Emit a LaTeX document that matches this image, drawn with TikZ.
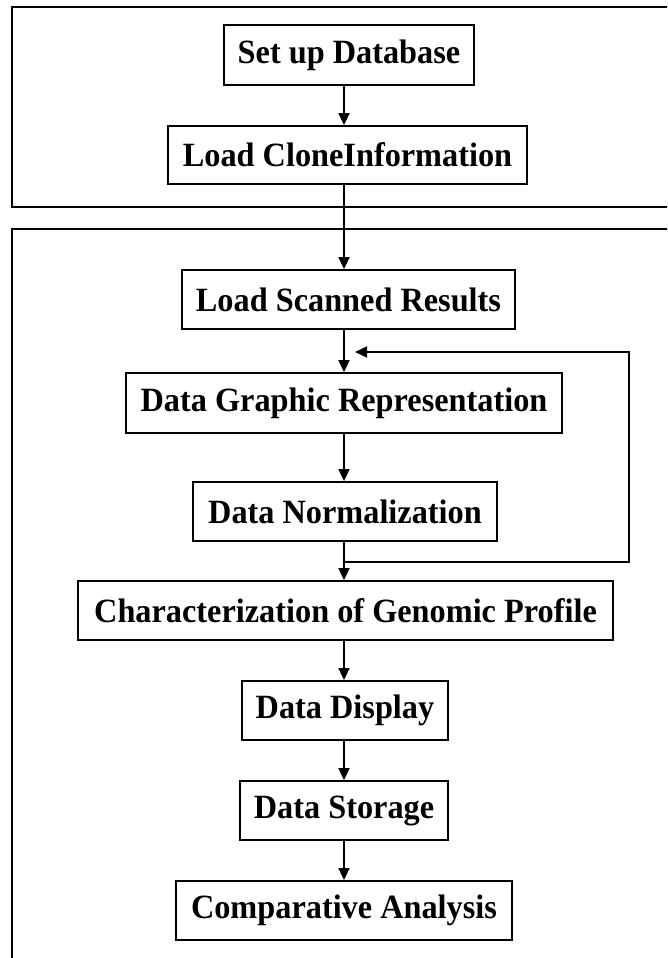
\documentclass[tikz,border=0pt]{standalone}
\usepackage{fontspec}
\setmainfont{Liberation Serif}[FakeStretch=0.95]
\usetikzlibrary{arrows.meta}
\begin{document}
\begin{tikzpicture}[x=1pt,y=-1pt,
  line width=2pt,
  stepbox/.style={draw, line width=1.8pt, inner sep=0pt, align=center,
    font=\fontsize{34}{38}\selectfont\bfseries},
  arr/.style={-{Triangle[length=12pt,width=11pt]}, line width=1.6pt},
  frame/.style={draw, line width=2pt}]
  % page area
  \path[use as bounding box, fill=white] (0,0) rectangle (667,958);
  \clip (0,0) rectangle (667,958);

  % two grouping frames, both running off the right/bottom edge
  \draw[frame] (12,7) rectangle (690,207);
  \draw[frame] (12,229) rectangle (690,990);

  % process steps
  \node[stepbox, minimum width=250pt, minimum height=60pt] (setup)   at (349,55)    {Set up Database};
  \node[stepbox, minimum width=359pt, minimum height=58pt] (clone)   at (347.5,155) {Load CloneInformation};
  \node[stepbox, minimum width=333pt, minimum height=59pt] (scanned) at (348.5,299.5) {Load Scanned Results};
  \node[stepbox, minimum width=436pt, minimum height=60pt] (graphic) at (344,403)   {Data Graphic Representation};
  \node[stepbox, minimum width=304pt, minimum height=59pt] (norm)    at (345,511.5) {Data Normalization};
  \node[stepbox, minimum width=535pt, minimum height=59pt] (charact) at (345.5,610.5) {Characterization of Genomic Profile};
  \node[stepbox, minimum width=206pt, minimum height=59pt] (display) at (345,710.5) {Data Display};
  \node[stepbox, minimum width=208pt, minimum height=59pt] (storage) at (344,810.5) {Data Storage};
  \node[stepbox, minimum width=336pt, minimum height=59pt] (compare) at (344,910.5) {Comparative Analysis};

  % main flow axis and feedback corners
  \coordinate (ax) at (344,0);
  \coordinate (fbLow) at (629,562);
  \coordinate (fbHigh) at (629,352);
  \coordinate (fbTip) at (355,352);

  \draw[arr] (setup.south -| ax)   -- (clone.north -| ax);
  \draw[arr] (clone.south -| ax)   -- (scanned.north -| ax);
  \draw[arr] (scanned.south -| ax) -- (graphic.north -| ax);
  \draw[arr] (graphic.south -| ax) -- (norm.north -| ax);
  \draw[arr] (norm.south -| ax)    -- (charact.north -| ax);
  \draw[arr] (charact.south -| ax) -- (display.north -| ax);
  \draw[arr] (display.south -| ax) -- (storage.north -| ax);
  \draw[arr] (storage.south -| ax) -- (compare.north -| ax);

  % feedback loop back to the graphic representation step
  \draw[arr] (ax |- fbLow) -- (fbLow) -- (fbHigh) -- (fbTip);
\end{tikzpicture}
\end{document}
